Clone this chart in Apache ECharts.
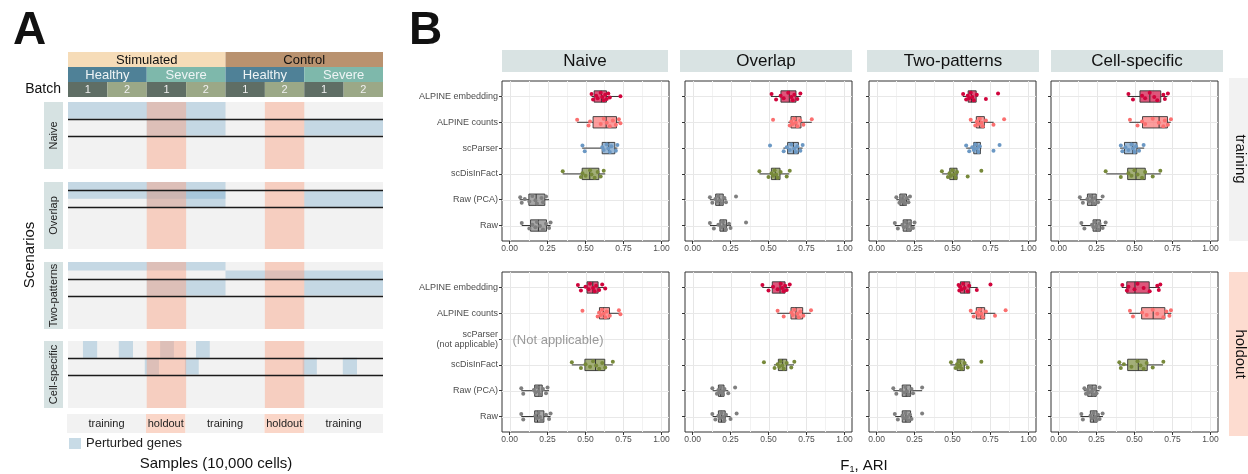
<!DOCTYPE html>
<html><head><meta charset="utf-8">
<script src="https://cdn.jsdelivr.net/npm/echarts@6/dist/echarts.min.js"></script>
<style>html,body{margin:0;padding:0;background:#fff}#c{width:1248px;height:474px}</style>
</head><body><div id="c"></div>
<script>
// ================= DATA =================
const methods = ['ALPINE embedding','ALPINE counts','scParser','scDisInFact','Raw (PCA)','Raw'];
const holdoutMethodLabels = ['ALPINE embedding','ALPINE counts','scParser\n(not applicable)','scDisInFact','Raw (PCA)','Raw'];
const scenarios = ['Naive','Overlap','Two-patterns','Cell-specific'];
const splits = ['training','holdout'];
const xTicks = [0, 0.25, 0.5, 0.75, 1];
const xMinorTicks = [0.125, 0.375, 0.625, 0.875];

// box stats per method: [lower whisker, q1, median, q3, upper whisker]; null = not applicable
const naiveTrainingBox = [[0.54,0.557,0.605,0.638,0.73],[0.445,0.55,0.636,0.704,0.73],[0.478,0.61,0.653,0.693,0.71],[0.35,0.478,0.528,0.588,0.63],[0.066,0.127,0.175,0.232,0.26],[0.08,0.138,0.19,0.243,0.27]];
const naiveTrainingPts = [[0.54,0.55,0.57,0.58,0.60,0.61,0.62,0.63,0.64,0.65,0.66,0.73],[0.445,0.52,0.53,0.60,0.62,0.64,0.66,0.68,0.70,0.72,0.73],[0.48,0.495,0.61,0.62,0.64,0.65,0.66,0.67,0.70,0.71],[0.35,0.47,0.48,0.50,0.53,0.54,0.56,0.58,0.60,0.62],[0.07,0.08,0.10,0.13,0.15,0.17,0.18,0.21,0.22,0.24],[0.08,0.13,0.15,0.17,0.18,0.20,0.22,0.24,0.26,0.27]];
const naiveHoldoutBox = [[0.45,0.51,0.548,0.583,0.632],[0.58,0.592,0.618,0.658,0.73],null,[0.41,0.496,0.566,0.627,0.68],[0.077,0.165,0.193,0.215,0.26],[0.077,0.165,0.184,0.226,0.27]];
const naiveHoldoutPts = [[0.45,0.47,0.50,0.52,0.53,0.55,0.56,0.57,0.59,0.61,0.63],[0.48,0.58,0.59,0.60,0.61,0.62,0.63,0.64,0.66,0.72,0.73],[],[0.41,0.47,0.50,0.53,0.55,0.57,0.59,0.61,0.63,0.68],[0.077,0.09,0.16,0.17,0.18,0.19,0.20,0.22,0.24,0.25],[0.077,0.09,0.17,0.18,0.19,0.20,0.21,0.24,0.26,0.27]];
const overlapTrainingBox = [[0.516,0.582,0.637,0.681,0.712],[0.63,0.648,0.681,0.714,0.785],[0.598,0.626,0.664,0.697,0.725],[0.44,0.519,0.545,0.576,0.637],[0.114,0.152,0.176,0.202,0.224],[0.114,0.18,0.202,0.224,0.253]];
const overlapTrainingPts = [[0.52,0.55,0.58,0.60,0.63,0.65,0.66,0.67,0.69,0.71],[0.53,0.64,0.65,0.66,0.67,0.68,0.69,0.71,0.73,0.785],[0.51,0.60,0.62,0.64,0.65,0.67,0.68,0.69,0.71,0.725],[0.44,0.50,0.52,0.53,0.54,0.55,0.56,0.58,0.62,0.64],[0.114,0.13,0.15,0.16,0.17,0.18,0.19,0.21,0.22,0.286],[0.114,0.14,0.17,0.19,0.20,0.21,0.22,0.24,0.25,0.352]];
const overlapHoldoutBox = [[0.459,0.525,0.576,0.609,0.642],[0.558,0.648,0.681,0.725,0.778],null,[0.536,0.565,0.593,0.62,0.668],[0.132,0.17,0.185,0.207,0.235],[0.132,0.17,0.19,0.215,0.25]];
const overlapHoldoutPts = [[0.46,0.50,0.53,0.56,0.58,0.59,0.60,0.61,0.62,0.64],[0.56,0.60,0.65,0.66,0.67,0.69,0.70,0.71,0.73,0.78],[],[0.47,0.54,0.56,0.57,0.58,0.59,0.60,0.62,0.65,0.67],[0.13,0.16,0.17,0.18,0.185,0.19,0.20,0.21,0.235,0.28],[0.13,0.15,0.17,0.18,0.19,0.20,0.21,0.22,0.25,0.29]];
const twoPatternsTrainingBox = [[0.568,0.603,0.625,0.656,0.666],[0.622,0.657,0.679,0.71,0.771],[0.59,0.64,0.66,0.684,0.69],[0.432,0.482,0.508,0.53,0.535],[0.13,0.153,0.173,0.197,0.217],[0.12,0.175,0.20,0.228,0.252]];
const twoPatternsTrainingPts = [[0.57,0.59,0.60,0.61,0.62,0.63,0.64,0.66,0.72,0.80],[0.62,0.65,0.66,0.67,0.68,0.69,0.70,0.72,0.77,0.84],[0.59,0.61,0.63,0.64,0.65,0.66,0.67,0.68,0.77,0.81],[0.43,0.47,0.48,0.49,0.50,0.51,0.52,0.53,0.60,0.69],[0.13,0.15,0.16,0.17,0.175,0.18,0.19,0.20,0.21,0.22],[0.12,0.14,0.17,0.18,0.19,0.20,0.21,0.22,0.24,0.25]];
const twoPatternsHoldoutBox = [[0.54,0.552,0.578,0.614,0.666],[0.622,0.657,0.688,0.712,0.782],null,[0.486,0.53,0.552,0.578,0.60],[0.11,0.169,0.195,0.224,0.30],[0.123,0.169,0.193,0.224,0.234]];
const twoPatternsHoldoutPts = [[0.54,0.545,0.55,0.56,0.57,0.58,0.60,0.61,0.66,0.75],[0.62,0.64,0.66,0.67,0.68,0.69,0.70,0.72,0.78,0.85],[],[0.49,0.52,0.53,0.54,0.545,0.55,0.56,0.58,0.60,0.69],[0.11,0.13,0.16,0.18,0.19,0.20,0.21,0.23,0.24,0.30],[0.12,0.14,0.17,0.18,0.19,0.20,0.21,0.22,0.23,0.30]];
const cellSpecificTrainingBox = [[0.455,0.536,0.601,0.673,0.717],[0.466,0.553,0.662,0.717,0.739],[0.405,0.434,0.488,0.516,0.564],[0.314,0.455,0.51,0.571,0.673],[0.14,0.19,0.22,0.248,0.288],[0.15,0.227,0.248,0.275,0.314]];
const cellSpecificTrainingPts = [[0.46,0.49,0.55,0.57,0.60,0.63,0.65,0.69,0.70,0.72],[0.47,0.52,0.55,0.57,0.62,0.66,0.69,0.70,0.72,0.74],[0.41,0.42,0.44,0.46,0.48,0.49,0.50,0.51,0.53,0.56],[0.31,0.41,0.46,0.48,0.50,0.52,0.55,0.57,0.62,0.67],[0.14,0.16,0.19,0.20,0.21,0.22,0.23,0.24,0.26,0.29],[0.15,0.17,0.22,0.23,0.24,0.25,0.26,0.27,0.29,0.31]];
const cellSpecificHoldoutBox = [[0.416,0.449,0.503,0.597,0.667],[0.466,0.547,0.623,0.70,0.743],null,[0.397,0.455,0.525,0.584,0.688],[0.166,0.192,0.22,0.248,0.27],[0.144,0.209,0.231,0.253,0.292]];
const cellSpecificHoldoutPts = [[0.42,0.45,0.46,0.50,0.52,0.56,0.60,0.65,0.66,0.67],[0.47,0.49,0.55,0.58,0.62,0.65,0.69,0.71,0.73,0.74],[],[0.40,0.41,0.43,0.48,0.52,0.54,0.56,0.58,0.62,0.69],[0.17,0.18,0.19,0.20,0.21,0.22,0.23,0.24,0.25,0.27],[0.15,0.16,0.21,0.22,0.23,0.24,0.25,0.26,0.27,0.29]];

// Panel A schematic
const conditions = ['Stimulated','Control'];
const diseases = ['Healthy','Severe'];
const batchLabels = ['1','2'];
// perturbed gene blocks: [batchStart, batchEnd, geneFracStart, geneFracEnd]
const naivePerturbed = [[0,4,0,0.25],[2,4,0.25,0.5],[6,8,0.25,0.5]];
const overlapPerturbed = [[0,4,0,0.25],[2,4,0.125,0.375],[6,8,0.125,0.375]];
const twoPatternsPerturbed = [[0,4,0,0.125],[4,8,0.125,0.25],[2,4,0.25,0.5],[6,8,0.25,0.5]];
const cellSpecificPerturbed = [[0.38,0.74,0,0.25],[1.29,1.65,0,0.25],[2.34,2.69,0,0.25],[3.25,3.6,0,0.25],[1.95,2.31,0.25,0.5],[2.97,3.32,0.25,0.5],[5.96,6.32,0.25,0.5],[6.98,7.34,0.25,0.5]];
const naiveGeneLines = [0.25, 0.5];
const overlapGeneLines = [0.125, 0.375];
const twoPatternsGeneLines = [0.25, 0.5];
const cellSpecificGeneLines = [0.25, 0.5];
const holdoutBatches = [2, 5];
const splitSegments = [[0,2],[2,3],[3,5],[5,6],[6,8]];
const splitSegmentLabels = ['training','holdout','training','holdout','training'];

// ================= STYLE / LAYOUT =================
const FONT = '"Liberation Sans", Arial, sans-serif';
const methodColors = ['#d0043c','#fb6f6f','#6b98c4','#77893a','#7f7f7f','#7f7f7f'];
const BOX_ALPHA = 0.68;
const JITTER = [-0.10,0.12,-0.03,0.07,-0.14,0.02,0.15,-0.07,0.10,-0.12,0.04,-0.01];
const BOX_H = 0.44;
const X_MIN = -0.05, X_MAX = 1.05;
const PB_LEFT = [502, 685, 869, 1051], PB_W = 167, PB_TOP = [81, 272], PB_H = 160;
const STRIP_X = [502, 680, 867, 1051], STRIP_W = [166, 172, 172, 172];
const PA_LEFT = 68, PA_W = 315;
const PA_SCEN_TOP = [102, 182, 262, 341], PA_SCEN_H = 67;
const BLUE = 'rgba(116,170,202,0.36)';
const SALMON = 'rgba(251,162,131,0.45)';

function rgba(hex, a){const n=parseInt(hex.slice(1),16);return `rgba(${n>>16},${(n>>8)&255},${n&255},${a})`;}

const boxSets = [[naiveTrainingBox,overlapTrainingBox,twoPatternsTrainingBox,cellSpecificTrainingBox],[naiveHoldoutBox,overlapHoldoutBox,twoPatternsHoldoutBox,cellSpecificHoldoutBox]];
const ptSets = [[naiveTrainingPts,overlapTrainingPts,twoPatternsTrainingPts,cellSpecificTrainingPts],[naiveHoldoutPts,overlapHoldoutPts,twoPatternsHoldoutPts,cellSpecificHoldoutPts]];
const catPos = methods.map((m,i)=>i+1);

const grids=[], xAxes=[], yAxes=[], series=[];

// ---------- Panel B ----------
for (let r=0;r<2;r++) for (let c=0;c<4;c++){
  const g = grids.length;
  grids.push({left:PB_LEFT[c], top:PB_TOP[r], width:PB_W, height:PB_H, show:true, borderColor:'#333', borderWidth:1, backgroundColor:'#fff', outerBoundsMode:'none', containLabel:false});
  xAxes.push({gridIndex:g, type:'value', min:X_MIN, max:X_MAX, position:'bottom', axisLine:{show:false, onZero:false}, splitLine:{show:false},
    axisTick:{show:true, customValues:xTicks, length:3, lineStyle:{color:'#333', width:1}},
    axisLabel:{show:true, customValues:xTicks, formatter:v=>Number(v).toFixed(2), fontSize:8.5, color:'#4d4d4d', margin:3, fontFamily:FONT}});
  const labs = r===0 ? methods : holdoutMethodLabels;
  yAxes.push({gridIndex:g, type:'value', inverse:true, min:0.4, max:6.6, position:'left', axisLine:{show:false, onZero:false}, splitLine:{show:false},
    axisTick:{show:true, customValues:catPos, length:3, lineStyle:{color:'#333', width:1}},
    axisLabel:{show:c===0, customValues:catPos, formatter:v=>labs[Math.round(v)-1]||'', fontSize:9, color:'#4d4d4d', margin:4, lineHeight:10, fontFamily:FONT, align:'right'}});
  // grid lines
  const gl = [];
  xTicks.forEach(v=>gl.push([v,1,1]));
  xMinorTicks.forEach(v=>gl.push([v,1,0]));
  catPos.forEach(p=>gl.push([0,p,2]));
  series.push({type:'custom', xAxisIndex:g, yAxisIndex:g, silent:true, z:1, data:gl, encode:{x:0,y:1},
    renderItem:(params, api)=>{
      const cs = params.coordSys, kind = api.value(2);
      if (kind===2){ const y = Math.round(api.coord([0, api.value(1)])[1])+0.5;
        return {type:'line', shape:{x1:cs.x,y1:y,x2:cs.x+cs.width,y2:y}, style:{stroke:'#e8e8e8', lineWidth:1}}; }
      const x = Math.round(api.coord([api.value(0), 1])[0])+0.5;
      return {type:'line', shape:{x1:x,y1:cs.y,x2:x,y2:cs.y+cs.height}, style:{stroke: kind? '#e6e6e6':'#f2f2f2', lineWidth:1}};
    }});
  // boxes
  const bd = [];
  boxSets[r][c].forEach((b,i)=>{ if(b) bd.push([i+1].concat(b)); });
  series.push({type:'custom', xAxisIndex:g, yAxisIndex:g, silent:true, z:2, data:bd, encode:{y:0, x:[1,2,3,4,5]},
    renderItem:(params, api)=>{
      const cat = api.value(0), ci = Math.round(cat)-1;
      const y = api.coord([0,cat])[1];
      const xs = [1,2,3,4,5].map(d=>api.coord([api.value(d),cat])[0]);
      const h = Math.abs(api.size([0,BOX_H])[1]);
      const st = {stroke:'#333', lineWidth:1};
      return {type:'group', children:[
        {type:'line', shape:{x1:xs[0],y1:y,x2:xs[1],y2:y}, style:st},
        {type:'line', shape:{x1:xs[3],y1:y,x2:xs[4],y2:y}, style:st},
        {type:'rect', shape:{x:xs[1],y:y-h/2,width:xs[3]-xs[1],height:h}, style:{fill:rgba(methodColors[ci],BOX_ALPHA), stroke:'#333', lineWidth:0.9}},
        {type:'line', shape:{x1:xs[2],y1:y-h/2,x2:xs[2],y2:y+h/2}, style:{stroke:'#333', lineWidth:1}}
      ]};
    }});
  // points
  const pd = [];
  ptSets[r][c].forEach((arr,i)=>arr.forEach((v,k)=>pd.push([v, i+1+JITTER[k%JITTER.length], i])));
  series.push({type:'scatter', xAxisIndex:g, yAxisIndex:g, silent:true, z:3, symbolSize:4, data:pd,
    itemStyle:{color:p=>methodColors[p.value[2]], opacity:1}});
}

// ---------- Panel A header ----------
{
  const g = grids.length;
  grids.push({left:PA_LEFT, top:52, width:PA_W, height:45, show:false, outerBoundsMode:'none'});
  xAxes.push({gridIndex:g, type:'value', min:0, max:8, show:false});
  yAxes.push({gridIndex:g, type:'value', min:0, max:3, inverse:true, show:false});
  const cells=[], cellInfo=[];
  const condFill=['#f6dcb8','#b9926f'], disFill=['#4f8197','#7eb8ab'], batchFill=['#5f6e65','#9ba887'];
  conditions.forEach((cn,i)=>{cells.push([4*i,4*i+4,0]); cellInfo.push([cn,condFill[i],'#111',13]);});
  for(let i=0;i<4;i++){cells.push([2*i,2*i+2,1]); cellInfo.push([diseases[i%2],disFill[i%2],'#eef4f5',13]);}
  for(let i=0;i<8;i++){cells.push([i,i+1,2]); cellInfo.push([batchLabels[i%2],batchFill[i%2],'#f0f0f0',11]);}
  series.push({type:'custom', xAxisIndex:g, yAxisIndex:g, silent:true, data:cells, encode:{x:[0,1], y:2},
    renderItem:(params, api)=>{
      const a = api.coord([api.value(0), api.value(2)]), b = api.coord([api.value(1), api.value(2)+1]);
      const info = cellInfo[params.dataIndex];
      return {type:'group', children:[
        {type:'rect', shape:{x:a[0],y:a[1],width:b[0]-a[0],height:b[1]-a[1]}, style:{fill:info[1]}},
        {type:'text', x:(a[0]+b[0])/2, y:(a[1]+b[1])/2+0.5, style:{text:info[0], fill:info[2], font:`${info[3]}px ${FONT}`, align:'center', verticalAlign:'middle'}}
      ]};
    }});
}

// ---------- Panel A scenarios ----------
const perturbedSets = [naivePerturbed, overlapPerturbed, twoPatternsPerturbed, cellSpecificPerturbed];
const lineSets = [naiveGeneLines, overlapGeneLines, twoPatternsGeneLines, cellSpecificGeneLines];
for (let s=0;s<4;s++){
  const g = grids.length;
  grids.push({left:PA_LEFT, top:PA_SCEN_TOP[s], width:PA_W, height:PA_SCEN_H, show:true, backgroundColor:'#f2f2f2', borderWidth:0, outerBoundsMode:'none'});
  xAxes.push({gridIndex:g, type:'value', min:0, max:8, show:false});
  yAxes.push({gridIndex:g, type:'value', min:0, max:1, inverse:true, show:false});
  const rectRender = fill => (params, api)=>{
    const a = api.coord([api.value(0), api.value(2)]), b = api.coord([api.value(1), api.value(3)]);
    return {type:'rect', shape:{x:a[0],y:a[1],width:b[0]-a[0],height:b[1]-a[1]}, style:{fill}};
  };
  series.push({type:'custom', name:'Perturbed genes', xAxisIndex:g, yAxisIndex:g, silent:true, z:2, itemStyle:{color:'#c6d9e4'},
    data:perturbedSets[s], encode:{x:[0,1], y:[2,3]}, renderItem:rectRender(BLUE)});
  series.push({type:'custom', xAxisIndex:g, yAxisIndex:g, silent:true, z:3,
    data:holdoutBatches.map(b=>[b,b+1,0,1]), encode:{x:[0,1], y:[2,3]}, renderItem:rectRender(SALMON)});
  series.push({type:'custom', xAxisIndex:g, yAxisIndex:g, silent:true, z:4,
    data:lineSets[s].map(v=>[v]), encode:{y:0},
    renderItem:(params, api)=>{ const cs=params.coordSys; const y=Math.round(api.coord([0,api.value(0)])[1])+0.5;
      return {type:'line', shape:{x1:cs.x,y1:y,x2:cs.x+cs.width,y2:y}, style:{stroke:'#1a1a1a', lineWidth:1.3}}; }});
}

// ---------- Panel A bottom split bar ----------
{
  const g = grids.length;
  grids.push({left:67, top:414, width:316, height:19, show:false, outerBoundsMode:'none'});
  xAxes.push({gridIndex:g, type:'value', min:0, max:8, show:false});
  yAxes.push({gridIndex:g, type:'value', min:0, max:1, show:false});
  series.push({type:'custom', xAxisIndex:g, yAxisIndex:g, silent:true, data:splitSegments, encode:{x:[0,1]},
    renderItem:(params, api)=>{
      const cs = params.coordSys;
      const x0 = api.coord([api.value(0),0])[0], x1 = api.coord([api.value(1),0])[0];
      const lab = splitSegmentLabels[params.dataIndex];
      return {type:'group', children:[
        {type:'rect', shape:{x:x0,y:cs.y,width:x1-x0,height:cs.height}, style:{fill: lab==='holdout' ? '#fad6c8' : '#f2f2f2'}},
        {type:'text', x:(x0+x1)/2, y:cs.y+cs.height/2+0.5, style:{text:lab, fill:'#222', font:`11px ${FONT}`, align:'center', verticalAlign:'middle'}}
      ]};
    }});
}

// ---------- graphic (labels, strips) ----------
const graphic = [];
function txt(text,x,y,font,opts={}){graphic.push(Object.assign({type:'text', x, y, rotation:opts.rotation||0, z:10, silent:true,
  style:{text, font, fill:opts.fill||'#111', align:opts.align||'center', verticalAlign:opts.va||'middle'}}));}
function rect(x,y,w,h,fill){graphic.push({type:'rect', shape:{x,y,width:w,height:h}, style:{fill}, z:5, silent:true});}
txt('A', 13, 31, `bold 46px ${FONT}`, {align:'left'});
txt('B', 409, 31, `bold 46px ${FONT}`, {align:'left'});
txt('Batch', 61, 89, `14px ${FONT}`, {align:'right'});
scenarios.forEach((s,i)=>{ rect(44, PA_SCEN_TOP[i], 19, PA_SCEN_H, '#d6e2e2');
  txt(s, 54, PA_SCEN_TOP[i]+PA_SCEN_H/2, `11px ${FONT}`, {rotation:Math.PI/2, fill:'#222'}); });
txt('Scenarios', 30, 255, `15px ${FONT}`, {rotation:Math.PI/2});
txt('Samples (10,000 cells)', 216, 464, `15px ${FONT}`);
// facet strips
scenarios.forEach((s,i)=>{ rect(STRIP_X[i], 50, STRIP_W[i], 22, '#d9e3e3'); txt(s, STRIP_X[i]+STRIP_W[i]/2, 61.5, `17px ${FONT}`); });
rect(1229, 78, 19, 163, '#f2f2f2'); txt(splits[0], 1240, 159, `15px ${FONT}`, {rotation:-Math.PI/2});
rect(1229, 272, 19, 164, '#fddcd0'); txt(splits[1], 1240, 354, `15px ${FONT}`, {rotation:-Math.PI/2});
txt('(Not applicable)', 558, 340, `13px ${FONT}`, {fill:'#9a9a9a'});
graphic.push({type:'text', x:864, y:466, z:10, silent:true, style:{
  text:'{a|F}{s|1}{a|, ARI}', align:'center', verticalAlign:'middle',
  rich:{a:{font:`15px ${FONT}`, fill:'#111'}, s:{font:`9px ${FONT}`, fill:'#111', padding:[8,0,0,0]}}}});

const chart = echarts.init(document.getElementById('c'), null, {renderer:'canvas', width:1248, height:474});
chart.setOption({
  animation:false, backgroundColor:'#fff',
  grid:grids, xAxis:xAxes, yAxis:yAxes, series,
  legend:{left:69, top:437, padding:0, itemWidth:12, itemHeight:11, itemGap:4, selectedMode:false,
    textStyle:{fontSize:13, color:'#222', fontFamily:FONT},
    data:[{name:'Perturbed genes', icon:'rect', itemStyle:{color:'#c8dbe6'}}]},
  graphic
});
</script></body></html>
